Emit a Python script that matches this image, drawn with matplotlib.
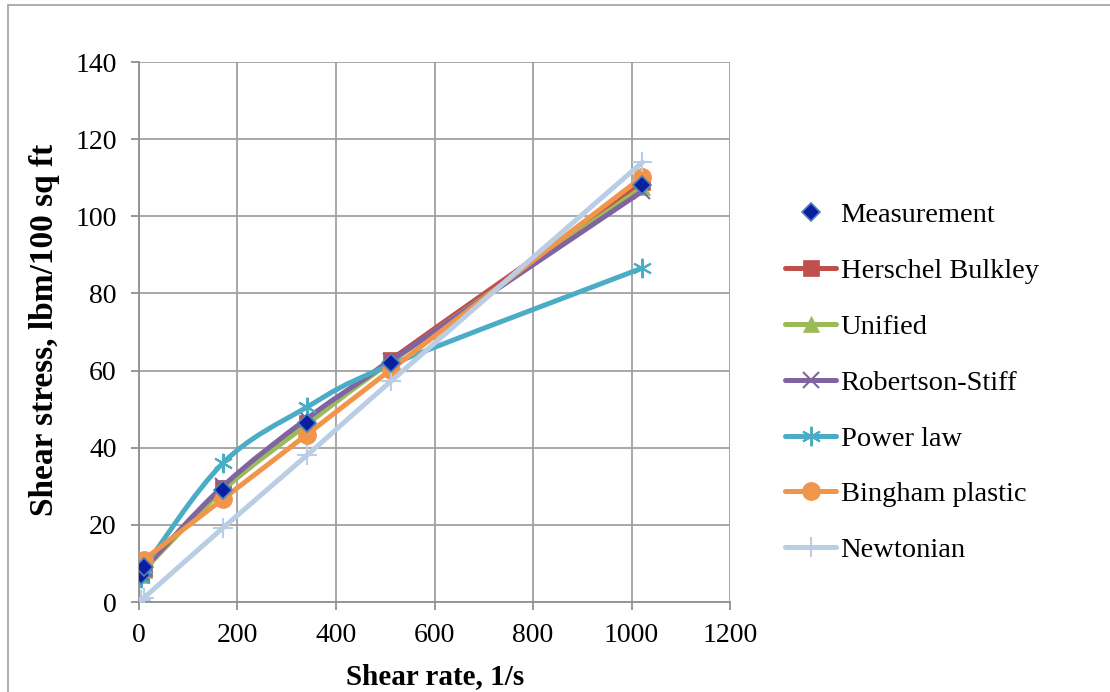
import numpy as np
import matplotlib
matplotlib.use("Agg")
import matplotlib.pyplot as plt
from matplotlib.path import Path
from matplotlib.patches import PathPatch, Rectangle
from matplotlib.lines import Line2D

plt.rcParams['font.family'] = ['Liberation Serif', 'DejaVu Serif']

# shear rate, 1/s (Fann 3, 6, 100, 200, 300, 600 rpm)
shear_rate = [5.11, 10.22, 170.3, 340.6, 511.0, 1022.0]

measurement = [7.0, 9.0, 29.0, 46.5, 62.0, 108.0]
herschel_bulkley = [7.5, 8.6, 29.5, 46.5, 62.8, 108.8]
unified = [7.0, 8.3, 29.0, 46.0, 62.2, 107.5]
robertson_stiff = [7.2, 8.6, 30.0, 47.5, 62.5, 106.5]
power_law = [6.2, 8.8, 36.0, 50.5, 61.5, 86.6]
bingham = [10.5, 11.0, 26.7, 43.4, 60.2, 110.2]
newtonian = [0.6, 1.1, 19.2, 38.0, 57.2, 114.0]

models = [
    ("Herschel Bulkley", herschel_bulkley, "#C0504D", "s", 11),
    ("Unified", unified, "#9BBB59", "^", 11),
    ("Robertson-Stiff", robertson_stiff, "#8064A2", "x", 11),
    ("Power law", power_law, "#4BACC6", (6, 2, 0), 14),
    ("Bingham plastic", bingham, "#F0954A", "o", 13),
    ("Newtonian", newtonian, "#B9CDE5", "+", 14),
]


def smooth_path(x, y):
    # Excel-like smoothed line: cubic bezier through the points
    pts = np.column_stack([x, y]).astype(float)
    n = len(pts)
    verts = [pts[0]]
    codes = [Path.MOVETO]
    for i in range(n - 1):
        p0 = pts[i - 1] if i > 0 else pts[i]
        p1 = pts[i]
        p2 = pts[i + 1]
        p3 = pts[i + 2] if i + 2 < n else pts[i + 1]
        verts += [p1 + (p2 - p0) / 6, p2 - (p3 - p1) / 6, p2]
        codes += [Path.CURVE4] * 3
    return Path(verts, codes)


fig = plt.figure(figsize=(11.1, 6.92), dpi=100)
ax = fig.add_axes([0.1252, 0.130, 0.5325, 0.7804])

handles = []
handles.append(Line2D([], [], ls='none', marker='D', ms=9, color='#0A1EA0',
                      mec='#4F81BD', mew=1.2, label='Measurement'))

for z, (name, vals, col, mk, ms) in enumerate(models):
    patch = PathPatch(smooth_path(shear_rate, vals), fill=False, ec=col,
                      lw=3.6, capstyle='round', joinstyle='round', zorder=3 + z)
    ax.add_patch(patch)
    mew = 1.5 if mk in ("x", "+") or isinstance(mk, tuple) else 0.5
    ax.plot(shear_rate, vals, ls='none', marker=mk, ms=ms, color=col,
            mec=col, mew=mew, zorder=3 + z)
    handles.append(Line2D([], [], color=col, lw=3.6, marker=mk, ms=ms,
                          mec=col, mew=mew, solid_capstyle='round', label=name))

ax.plot(shear_rate, measurement, ls='none', marker='D', ms=9, color='#0A1EA0',
        mec='#4F81BD', mew=1.2, zorder=20)

ax.set_xlim(0, 1200)
ax.set_ylim(0, 140)
ax.set_xticks(np.arange(0, 1201, 200))
ax.set_yticks(np.arange(0, 141, 20))
ax.grid(True, color='#A0A0A0', lw=1.3)
ax.set_axisbelow(True)
for s in ax.spines.values():
    s.set_visible(False)
for side in ('left', 'bottom'):
    ax.spines[side].set_visible(True)
    ax.spines[side].set_color('#909090')
    ax.spines[side].set_linewidth(1.3)
ax.tick_params(axis='both', direction='out', length=6, width=1.3,
               color='#909090', labelsize=20)
ax.tick_params(axis='y', pad=10)
ax.tick_params(axis='x', pad=9)

ax.set_xlabel('Shear rate, 1/s', fontsize=21, fontweight='bold')
ax.set_ylabel('Shear stress, lbm/100 sq ft', fontsize=24, fontweight='bold')
ax.xaxis.set_label_coords(435 / 1110, 15 / 692, transform=fig.transFigure)
ax.yaxis.set_label_coords(45 / 1110, 1 - 330 / 692, transform=fig.transFigure)
ax.xaxis.label.set_va('center')
ax.yaxis.label.set_va('center')

fig.legend(handles=handles, loc='upper left', bbox_to_anchor=(0.697, 0.724),
           frameon=False, fontsize=20.5, handlelength=1.8, labelspacing=1.05,
           handletextpad=0.15, borderaxespad=0)

fig.patches.append(Rectangle((8 / 1110, -0.05), 1.2, 1 - 5 / 692 + 0.05,
                             transform=fig.transFigure, fill=False,
                             ec='#A0A0A0', lw=1.2))

fig.savefig('out.png', dpi=100)
